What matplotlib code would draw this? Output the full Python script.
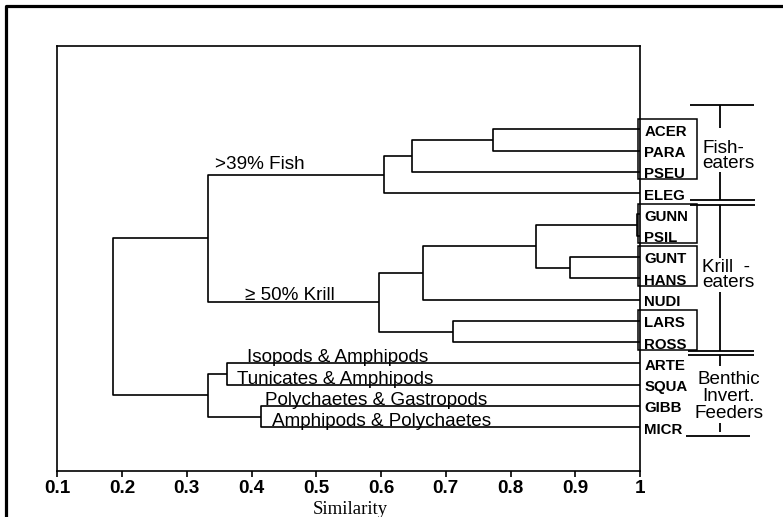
import matplotlib
matplotlib.use("Agg")
import matplotlib.pyplot as plt
from matplotlib.lines import Line2D
from matplotlib.patches import Rectangle

plt.rcParams['font.family'] = ['Liberation Sans', 'DejaVu Sans']

# ---------------- data ----------------
leaves = ["ACER", "PARA", "PSEU", "ELEG", "GUNN", "PSIL", "GUNT", "HANS",
          "NUDI", "LARS", "ROSS", "ARTE", "SQUA", "GIBB", "MICR"]
# merges: (child_a, child_b, similarity) ; children are leaf names or merge ids "m<k>"
merge_a = ["ACER", "m0", "m1", "GUNN", "GUNT", "m3", "m5", "LARS", "m6", "m2", "ARTE", "GIBB", "m10", "m9"]
merge_b = ["PARA", "PSEU", "ELEG", "PSIL", "HANS", "m4", "NUDI", "ROSS", "m7", "m8", "SQUA", "MICR", "m11", "m12"]
merge_sim = [0.773, 0.648, 0.604, 0.995, 0.892, 0.839, 0.665, 0.711, 0.597, 0.333, 0.362, 0.415, 0.333, 0.186]

boxed_groups = [["ACER", "PARA", "PSEU"], ["GUNN", "PSIL"], ["GUNT", "HANS"], ["LARS", "ROSS"]]

branch_labels = [">39% Fish", "\u2265 50% Krill", "Isopods & Amphipods", "Tunicates & Amphipods",
                 "Polychaetes & Gastropods", "Amphipods & Polychaetes"]

xticks = [0.1, 0.2, 0.3, 0.4, 0.5, 0.6, 0.7, 0.8, 0.9, 1.0]
xtick_labels = ["0.1", "0.2", "0.3", "0.4", "0.5", "0.6", "0.7", "0.8", "0.9", "1"]

# ---------------- figure ----------------
W, H = 783, 517
fig = plt.figure(figsize=(W / 100, H / 100), dpi=100)
ax = fig.add_axes([57.3 / W, 1 - 470.7 / H, (640 - 57.3) / W, (470.7 - 46) / H])
ax.set_xlim(0.1, 1.0)
ax.set_ylim(16.036, -3.913)

lw = 1.2
pos = {name: (1.0, float(i)) for i, name in enumerate(leaves)}
for k, (a, b, s) in enumerate(zip(merge_a, merge_b, merge_sim)):
    xa, ya = pos[a]
    xb, yb = pos[b]
    ax.plot([xa, s, s, xb], [ya, ya, yb, yb], color="black", lw=lw, solid_capstyle="butt")
    pos["m%d" % k] = (s, (ya + yb) / 2.0)

# leaf labels
for i, name in enumerate(leaves):
    ax.text(1.0067, i + 0.30, name, fontsize=10.8, fontweight="bold", ha="left", va="baseline",
            clip_on=False)

# boxes around leaf groups
for grp in boxed_groups:
    i0 = leaves.index(grp[0])
    i1 = leaves.index(grp[-1])
    ax.add_patch(Rectangle((0.9962, i0 - 0.50), 1.0873 - 0.9962, (i1 + 0.35) - (i0 - 0.50),
                           fill=False, ec="black", lw=1.1, clip_on=False))

# branch labels
fs = 13.6
fish_y = pos["m2"][1]
krill_y = pos["m8"][1]
ax.text(0.3436, fish_y - 0.24, branch_labels[0], fontsize=fs, ha="left", va="baseline")
ax.text(0.390, krill_y - 0.09, branch_labels[1], fontsize=fs, ha="left", va="baseline")
ax.text(0.3925, leaves.index("ARTE") - 0.05, branch_labels[2], fontsize=fs, ha="left", va="baseline")
ax.text(0.377, leaves.index("SQUA") - 0.05, branch_labels[3], fontsize=fs, ha="left", va="baseline")
ax.text(0.421, leaves.index("GIBB") - 0.05, branch_labels[4], fontsize=fs, ha="left", va="baseline")
ax.text(0.431, leaves.index("MICR") - 0.05, branch_labels[5], fontsize=fs, ha="left", va="baseline")

# right-hand group brackets
kw = dict(color="black", lw=1.3, clip_on=False, solid_capstyle="butt")
xv = 1.1235
ax.plot([1.0773, 1.1761], [-1.141, -1.141], **kw)
for y0, y1 in [(-1.141, -0.061), (2.006, 3.321), (3.555, 6.045), (7.642, 10.390),
               (10.601, 11.118), (13.795, 14.218)]:
    ax.plot([xv, xv], [y0, y1], **kw)
ax.plot([1.0773, 1.1772], [3.321, 3.321], **kw)
ax.plot([1.0773, 1.1772], [3.555, 3.555], **kw)
ax.plot([1.0742, 1.1761], [10.390, 10.390], **kw)
ax.plot([1.0742, 1.1761], [10.601, 10.601], **kw)
ax.plot([1.0711, 1.1699], [14.429, 14.429], **kw)

ax.text(1.0958, 1.12, "Fish-", fontsize=fs, ha="left", va="baseline")
ax.text(1.0958, 1.84, "eaters", fontsize=fs, ha="left", va="baseline")
ax.text(1.0958, 6.68, "Krill  -", fontsize=fs, ha="left", va="baseline")
ax.text(1.0958, 7.43, "eaters", fontsize=fs, ha="left", va="baseline")
ax.text(1.1368, 12.56, "Benthic\nInvert.\nFeeders", fontsize=fs, ha="center", va="center",
        linespacing=0.98)

# axes styling
for sp in ax.spines.values():
    sp.set_linewidth(1.2)
ax.set_yticks([])
ax.set_xticks(xticks)
ax.set_xticklabels(xtick_labels, fontsize=13.6, fontweight="bold")
ax.tick_params(axis="x", direction="out", length=4, width=1.2, pad=3)

fig.text(350 / W, 1 - 509 / H, "Similarity", family=["Liberation Serif", "DejaVu Serif"],
         fontsize=13.5, ha="center", va="center")

# outer frame (partly outside the image)
fig.add_artist(Line2D([5.5 / W, 5.5 / W, 1.05], [-0.05, 1 - 5.5 / H, 1 - 5.5 / H],
                      transform=fig.transFigure, color="black", lw=2.3))

fig.savefig("out.png", dpi=100)
